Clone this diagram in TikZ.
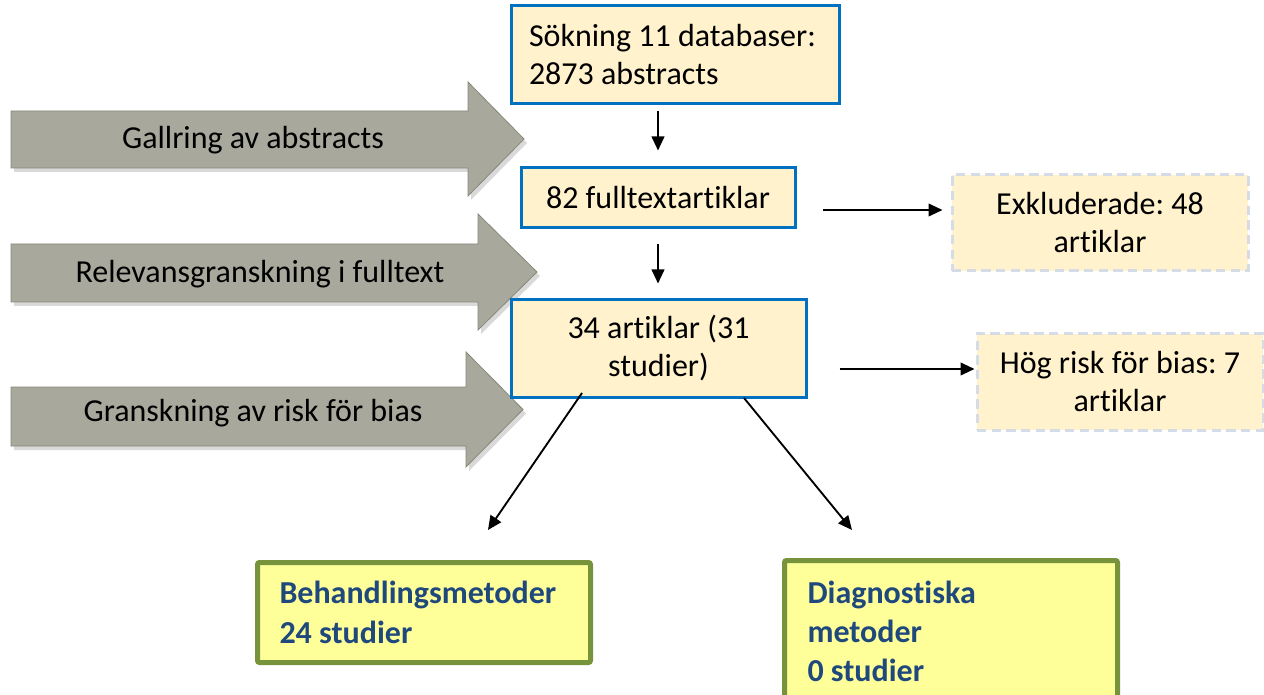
\documentclass[tikz,border=0pt]{standalone}
\usepackage{fontspec}
\setmainfont{Carlito}[Ligatures=NoCommon]
\usetikzlibrary{arrows.meta,calc}
\definecolor{boxblue}{RGB}{0,112,192}
\definecolor{cream}{RGB}{255,242,204}
\definecolor{dashgray}{RGB}{214,220,229}
\definecolor{lgreen}{RGB}{119,147,60}
\definecolor{lyellow}{RGB}{255,255,153}
\definecolor{txtblue}{RGB}{31,73,125}
\definecolor{grayfill}{RGB}{168,169,156}
\definecolor{grayedge}{RGB}{135,136,120}
\tikzset{
  base/.style={font=\fontsize{24pt}{28.5pt}\selectfont, inner sep=0pt},
  bluebox/.style={base, draw=boxblue, line width=2.25pt, fill=cream, align=flush center},
  dashbox/.style={base, draw=dashgray, line width=2.25pt, fill=cream, dash pattern=on 7pt off 4pt, align=flush center},
  greenbox/.style={base, draw=lgreen, line width=3.75pt, fill=lyellow, rounded corners=1.5pt,
     font=\fontsize{24pt}{30.5pt}\selectfont\bfseries, text=txtblue, align=flush left, anchor=north west},
  grayarrow/.style={draw=grayedge, line width=0.6pt, fill=grayfill},
  grayshadow/.style={fill=black, opacity=0.15},
  graylabel/.style={base},
  conn/.style={line width=1.4pt, -{Triangle[length=10.5pt,width=9.5pt]}}
}
\frenchspacing
\begin{document}
\begin{tikzpicture}[x=0.75pt,y=-0.75pt]
\useasboundingbox (0,0) rectangle (1264,695);
% gray process arrows
\foreach \yt/\yb/\ht/\hb/\bx/\tx in {111/168/82/196/468/524, 244/302/214/330/478/537, 387/446/352/467/466/523}{
  \fill[grayshadow] ($(11,\yt)+(3,4)$) -- ($(\bx,\yt)+(3,4)$) -- ($(\bx,\ht)+(3,4)$) -- ($(\tx,{(\ht+\hb)/2})+(3,4)$) -- ($(\bx,\hb)+(3,4)$) -- ($(\bx,\yb)+(3,4)$) -- ($(11,\yb)+(3,4)$) -- cycle;
  \path[grayarrow] (11,\yt) -- (\bx,\yt) -- (\bx,\ht) -- (\tx,{(\ht+\hb)/2}) -- (\bx,\hb) -- (\bx,\yb) -- (11,\yb) -- cycle;
}
\node[graylabel] (g1) at (253,140) {Gallring av abstracts};
\node[graylabel] (g2) at (260,274) {Relevansgranskning i fulltext};
\node[graylabel] (g3) at (253,413) {Granskning av risk för bias};
% flow boxes
\node[bluebox, align=flush left, text width=219pt, inner xsep=13.5pt, minimum height=73.5pt] (s) at (675,55) {Sökning 11 databaser:\\2873 abstracts};
\node[bluebox, minimum width=205.5pt, minimum height=45pt] (a82) at (658,198) {82 fulltextartiklar};
\node[bluebox, minimum width=221.25pt, minimum height=72.75pt] (a34) at (658.5,348.5) {34 artiklar (31\\studier)};
\node[dashbox, minimum width=222pt, minimum height=72pt] (ex) at (1100,223) {Exkluderade: 48\\artiklar};
\node[dashbox, minimum width=214.5pt, minimum height=72pt] (hr) at (1120,382) {Hög risk för bias: 7\\artiklar};
\node[greenbox, text width=216.75pt, inner xsep=16.5pt, minimum height=75pt] (bm) at (255,560) {Behandlingsmetoder\\24 studier};
\node[greenbox, text width=215.25pt, inner xsep=17.25pt, minimum height=106.5pt, font=\fontsize{24pt}{29pt}\selectfont\bfseries] (dm) at (782,558) {Diagnostiska\\metoder\\0 studier};
% connectors
\draw[conn, shorten <=4.5pt, shorten >=12pt] (a82.north |- s.south) -- (a82.north);
\draw[conn, shorten <=11.25pt, shorten >=11.25pt] (a82.south) -- (a82.south |- a34.north);
\draw[conn, shorten <=19.5pt, shorten >=6pt] (a82.east |- 0,210) -- (ex.west |- 0,210);
\draw[conn, shorten <=24pt, shorten >=0.75pt] (a34.east |- 0,369) -- (hr.west |- 0,369);
\coordinate (d1s) at (582,393);
\coordinate (d1e) at (488,530);
\coordinate (d2s) at (744,398);
\coordinate (d2e) at (852,530);
\draw[conn] (d1s) -- (d1e);
\draw[conn] (d2s) -- (d2e);
\end{tikzpicture}
\end{document}
